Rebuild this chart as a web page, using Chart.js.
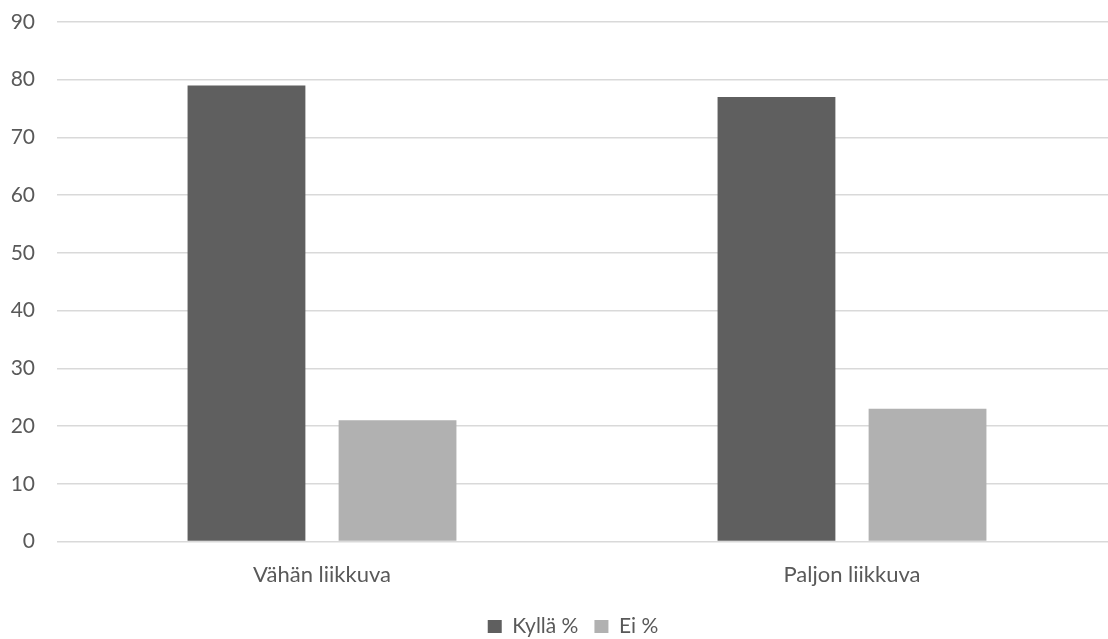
<!DOCTYPE html>
<html>
<head>
<meta charset="utf-8">
<script src="https://cdn.jsdelivr.net/npm/chart.js@4/dist/chart.umd.min.js"></script>
<style>
  html, body { margin: 0; padding: 0; background: #ffffff; overflow: hidden; }
  #wrap { position: relative; width: 1117px; height: 639px; }
</style>
</head>
<body>
<div id="wrap"><canvas id="chart"></canvas></div>
<script>
// Categories and series
const categories = ['Vähän liikkuva', 'Paljon liikkuva'];
const kyllaValues = [79, 77];
const eiValues = [21, 23];
const seriesNames = ['Kyllä %', 'Ei %'];
const yTicks = [0, 10, 20, 30, 40, 50, 60, 70, 80, 90];

const textColor = '#595959';
const gridColor = '#d9d9d9';
const fontFamily = 'Lato, "Open Sans", sans-serif';
const legendCenterX = 573;

// Moves the legend row so that its items are centred on legendCenterX
const legendShift = {
  id: 'legendShift',
  afterLayout(chart) {
    const lg = chart.legend;
    if (!lg) return;
    const dx = legendCenterX - (lg.left + lg.right) / 2;
    lg.left += dx;
    lg.right += dx;
  }
};

new Chart(document.getElementById('chart'), {
  type: 'bar',
  data: {
    labels: categories,
    datasets: [
      { label: seriesNames[0], data: kyllaValues, backgroundColor: '#5f5f5f', borderWidth: 0,
        categoryPercentage: 0.57, barPercentage: 0.78 },
      { label: seriesNames[1], data: eiValues, backgroundColor: '#b1b1b1', borderWidth: 0,
        categoryPercentage: 0.57, barPercentage: 0.78 }
    ]
  },
  plugins: [legendShift],
  options: {
    responsive: true,
    maintainAspectRatio: false,
    animation: false,
    layout: { padding: { top: 22, left: 0, right: 0, bottom: -8 } },
    plugins: {
      tooltip: { enabled: false },
      legend: {
        position: 'bottom',
        labels: {
          color: textColor,
          font: { family: fontFamily, size: 21 },
          boxWidth: 14,
          boxHeight: 13,
          padding: 16
        }
      }
    },
    scales: {
      x: {
        grid: { display: false },
        border: { display: false },
        ticks: { color: textColor, font: { family: fontFamily, size: 22 }, padding: 12 }
      },
      y: {
        min: 0,
        max: 90,
        afterBuildTicks: (axis) => { axis.ticks = yTicks.map(v => ({ value: v })); },
        afterFit: (axis) => { axis.width = 57; },
        grid: { color: gridColor, lineWidth: 1.5, drawTicks: true, tickLength: 22, tickColor: 'rgba(0,0,0,0)' },
        border: { display: false },
        ticks: { color: textColor, font: { family: fontFamily, size: 21 }, padding: 0 }
      }
    }
  }
});
</script>
</body>
</html>
